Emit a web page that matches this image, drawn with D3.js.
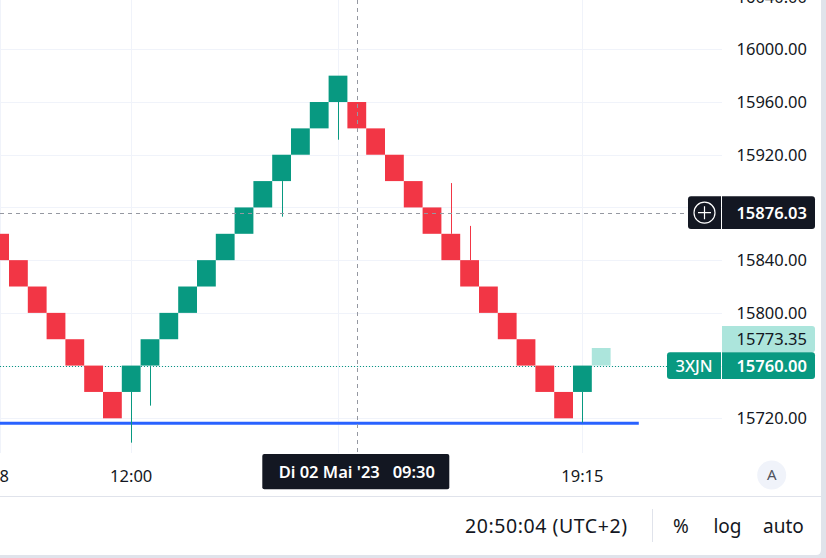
<!DOCTYPE html>
<html><head><meta charset="utf-8">
<script src="https://cdn.jsdelivr.net/npm/d3@7"></script>
<style>
html,body{margin:0;padding:0;background:#fff;}
svg{display:block;font-family:"Noto Sans",sans-serif;}
</style></head>
<body>
<script>
// ---------- data ----------
const brickIndex = d3.range(0, 32);
const brickOpen  = [15860,15840,15820,15800,15780,15760,15740, 15740,15760,15780,15800,15820,15840,15860,15880,15900,15920,15940,15960, 15960,15940,15920,15900,15880,15860,15840,15820,15800,15780,15760,15740, 15740];
const brickClose = [15840,15820,15800,15780,15760,15740,15720, 15760,15780,15800,15820,15840,15860,15880,15900,15920,15940,15960,15980, 15940,15920,15900,15880,15860,15840,15820,15800,15780,15760,15740,15720, 15760];
const wickEnd    = [null,null,null,null,null,null,null, 15701.5,15729.6,null,null,null,null,null,null,15873,null,null,15931.4, null,null,null,null,null,15898.5,15866,null,null,null,null,null, 15716.7];
const projIndex = 32, projOpen = 15760, projClose = 15773.35;
const priceTicks = [15720,15760,15800,15840,15880,15920,15960,16000,16040];
const timeGridIndex = [0, 7, 18, 31];
const timeTickIndex = [0, 7, 31];
const timeTickLabels = ["28", "12:00", "19:15"];
const blueLineValue = 15716.2, blueLineFrom = -1, blueLineTo = 34;
const crossIndex = 19, crossPrice = 15876.03, crossTimeLabel = "Di 02 Mai '23   09:30";
const lastPrice = 15760.00, symbolLabel = "3XJN";
const bottomTime = "20:50:04 (UTC+2)";
const bottomButtons = ["%", "log", "auto"];

// ---------- layout ----------
const W = 826, H = 558;
const paneRight = 722, paneBottom = 453, axisRight = 821, toolbarTop = 496;
const GREEN = "#089981", RED = "#F23645", TEXT = "#131722";

const svg = d3.select("body").append("svg").attr("width", W).attr("height", H);

const x = d3.scaleLinear().domain([0, 38]).range([-0.4, -0.4 + 18.8 * 38]);
const step = x(1) - x(0);
const y = d3.scaleLinear().domain([15720, 16000]).range([418.3, 49.3]);

// background frame
svg.append("rect").attr("width", W).attr("height", H).attr("fill", "#E0E3EB");
svg.append("path").attr("fill", "#fff")
  .attr("d", `M0,0H${axisRight}V${555-5}Q${axisRight},555 ${axisRight-5},555H0Z`);

const pane = svg.append("g");
pane.append("clipPath").attr("id", "clip").append("rect")
  .attr("x", 0).attr("y", 0).attr("width", paneRight).attr("height", paneBottom);
const plot = pane.append("g").attr("clip-path", "url(#clip)");

// grid
plot.append("g").selectAll("line").data(priceTicks).join("line")
  .attr("x1", 0).attr("x2", paneRight)
  .attr("y1", d => Math.round(y(d)) + 0.5).attr("y2", d => Math.round(y(d)) + 0.5)
  .attr("stroke", "#F0F3FA").attr("stroke-width", 1);
plot.append("g").selectAll("line").data(timeGridIndex).join("line")
  .attr("x1", d => Math.round(x(d)) + 0.5).attr("x2", d => Math.round(x(d)) + 0.5)
  .attr("y1", 0).attr("y2", paneBottom)
  .attr("stroke", "#F0F3FA").attr("stroke-width", 1);

// blue horizontal line
plot.append("line")
  .attr("x1", x(blueLineFrom)).attr("x2", x(blueLineTo))
  .attr("y1", y(blueLineValue)).attr("y2", y(blueLineValue))
  .attr("stroke", "#2962FF").attr("stroke-width", 3);

// last price dotted line
plot.append("line")
  .attr("x1", 0).attr("x2", 667)
  .attr("y1", Math.round(y(lastPrice)) + 0.5).attr("y2", Math.round(y(lastPrice)) + 0.5)
  .attr("stroke", GREEN).attr("stroke-width", 1).attr("stroke-dasharray", "1,2");

// wicks
plot.append("g").selectAll("line").data(brickIndex.filter(i => wickEnd[i] !== null)).join("line")
  .attr("x1", i => Math.round(x(i)) + 0.5).attr("x2", i => Math.round(x(i)) + 0.5)
  .attr("y1", i => y(brickOpen[i])).attr("y2", i => y(wickEnd[i]))
  .attr("stroke", i => brickClose[i] > brickOpen[i] ? GREEN : RED).attr("stroke-width", 1);

// bricks
plot.append("g").selectAll("rect").data(brickIndex).join("rect")
  .attr("x", i => x(i) - step / 2)
  .attr("width", step)
  .attr("y", i => y(Math.max(brickOpen[i], brickClose[i])))
  .attr("height", i => Math.abs(y(brickOpen[i]) - y(brickClose[i])))
  .attr("fill", i => brickClose[i] > brickOpen[i] ? GREEN : RED);

// projected brick
plot.append("rect")
  .attr("x", x(projIndex) - step / 2).attr("width", step)
  .attr("y", y(projClose)).attr("height", y(projOpen) - y(projClose))
  .attr("fill", "#ACE5DC");

// crosshair
plot.append("line")
  .attr("x1", 0).attr("x2", 688)
  .attr("y1", Math.round(y(crossPrice)) + 0.5).attr("y2", Math.round(y(crossPrice)) + 0.5)
  .attr("stroke", "#9598A1").attr("stroke-dasharray", "4,4");
svg.append("line")
  .attr("x1", Math.round(x(crossIndex)) + 0.5).attr("x2", Math.round(x(crossIndex)) + 0.5)
  .attr("y1", 0).attr("y2", 454)
  .attr("stroke", "#9598A1").attr("stroke-dasharray", "4,4");

// label boxes geometry
const lpY = y(lastPrice);
const bh = 26.7;
const cy = y(crossPrice);
const ch = 32.7;
const covered = [[cy - ch / 2, cy + ch / 2], [lpY - bh / 2 - 26.3, lpY + bh / 2]];

// price axis labels (hidden where a label box covers them)
svg.append("g").selectAll("text")
  .data(priceTicks.filter(d => !covered.some(([a, b]) => y(d) > a - 6 && y(d) < b + 6)))
  .join("text")
  .attr("x", 807).attr("y", d => y(d))
  .attr("dy", "0.36em").attr("text-anchor", "end")
  .attr("font-size", 16.5).attr("fill", TEXT)
  .text(d => d3.format(".2f")(d));

function rightRoundRect(x0, y0, w, h, r) {
  return `M${x0},${y0}H${x0+w-r}Q${x0+w},${y0} ${x0+w},${y0+r}V${y0+h-r}Q${x0+w},${y0+h} ${x0+w-r},${y0+h}H${x0}Z`;
}
function leftRoundRect(x0, y0, w, h, r) {
  return `M${x0+w},${y0}H${x0+r}Q${x0},${y0} ${x0},${y0+r}V${y0+h-r}Q${x0},${y0+h} ${x0+r},${y0+h}H${x0+w}Z`;
}
// projected price label above
svg.append("path").attr("d", rightRoundRect(722, lpY - bh / 2 - 26.3, 93, 26.3, 3)).attr("fill", "#ACE5DC");
svg.append("text").attr("x", 807).attr("y", lpY - bh / 2 - 13.15).attr("dy", "0.36em")
  .attr("text-anchor", "end").attr("font-size", 16.5).attr("fill", TEXT)
  .text(d3.format(".2f")(projClose));
svg.append("path").attr("d", rightRoundRect(722, lpY - bh / 2, 93, bh, 3)).attr("fill", GREEN);
svg.append("text").attr("x", 807).attr("y", lpY).attr("dy", "0.36em")
  .attr("text-anchor", "end").attr("font-size", 16.5).attr("font-weight", 600).attr("fill", "#fff")
  .text(d3.format(".2f")(lastPrice));
svg.append("path").attr("d", leftRoundRect(667, lpY - bh / 2, 54, bh, 3)).attr("fill", GREEN);
svg.append("text").attr("x", 694).attr("y", lpY).attr("dy", "0.36em")
  .attr("text-anchor", "middle").attr("font-size", 16.5).attr("font-weight", 500).attr("fill", "#fff")
  .text(symbolLabel);

// crosshair price label
svg.append("path").attr("d", rightRoundRect(722, cy - ch / 2, 93, ch, 3)).attr("fill", TEXT);
svg.append("text").attr("x", 807).attr("y", cy).attr("dy", "0.36em")
  .attr("text-anchor", "end").attr("font-size", 16.5).attr("font-weight", 600).attr("fill", "#fff")
  .text(d3.format(".2f")(crossPrice));
svg.append("path").attr("d", leftRoundRect(688, cy - ch / 2, 33, ch, 3)).attr("fill", TEXT);
svg.append("circle").attr("cx", 704.5).attr("cy", cy).attr("r", 10.5)
  .attr("fill", "none").attr("stroke", "#fff").attr("stroke-width", 1.2);
svg.append("path").attr("d", `M${704.5-6.5},${cy}H${704.5+6.5}M704.5,${cy-6.5}V${cy+6.5}`)
  .attr("stroke", "#fff").attr("stroke-width", 1.2);

// time axis labels
svg.append("g").selectAll("text").data(timeTickIndex).join("text")
  .attr("x", i => x(i)).attr("y", 476).attr("dy", "0.36em")
  .attr("text-anchor", "middle").attr("font-size", 16.5).attr("fill", TEXT)
  .text((i, k) => timeTickLabels[k]);

// crosshair time label
const tx = x(crossIndex);
svg.append("rect").attr("x", 262.3).attr("y", 454).attr("width", 187).attr("height", 35.3)
  .attr("rx", 2).attr("fill", TEXT);
svg.append("text").attr("x", tx).attr("y", 472).attr("dy", "0.36em")
  .attr("text-anchor", "middle").attr("font-size", 16.5).attr("font-weight", 600).attr("fill", "#fff")
  .attr("xml:space", "preserve").style("white-space", "pre")
  .text(crossTimeLabel);

// "A" button
svg.append("circle").attr("cx", 771.7).attr("cy", 475).attr("r", 14.5).attr("fill", "#F0F3FA");
svg.append("text").attr("x", 771.7).attr("y", 475).attr("dy", "0.36em")
  .attr("text-anchor", "middle").attr("font-size", 15).attr("fill", "#50535E").text("A");

// separator
svg.append("line").attr("x1", 0).attr("x2", axisRight).attr("y1", toolbarTop + 0.5).attr("y2", toolbarTop + 0.5)
  .attr("stroke", "#E0E3EB");

// bottom toolbar
svg.append("text").attr("x", 465).attr("y", 533).attr("text-anchor", "start")
  .attr("font-size", 19.5).attr("fill", TEXT)
  .attr("textLength", 162).attr("lengthAdjust", "spacing")
  .text(bottomTime);
svg.append("line").attr("x1", 652.5).attr("x2", 652.5).attr("y1", 509).attr("y2", 542).attr("stroke", "#E0E3EB");
const btnX = [681, 727.5, 783.5];
svg.append("g").selectAll("text").data(bottomButtons).join("text")
  .attr("x", (d, k) => btnX[k]).attr("y", 533).attr("text-anchor", "middle")
  .attr("font-size", 19).attr("fill", TEXT).text(d => d);
</script>
</body></html>
